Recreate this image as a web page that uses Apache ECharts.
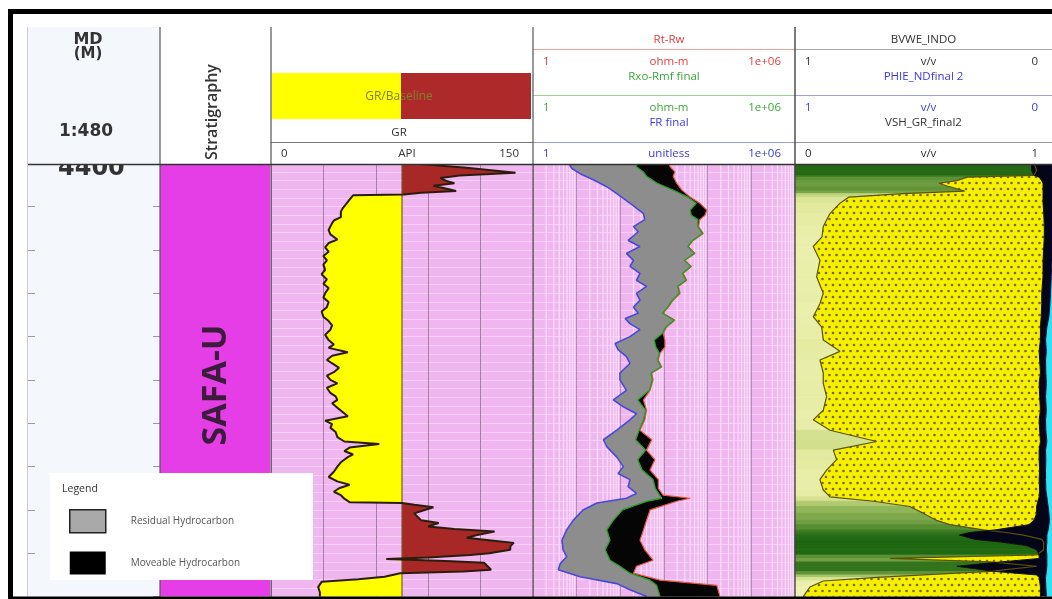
<!DOCTYPE html>
<html>
<head>
<meta charset="utf-8">
<script src="https://cdn.jsdelivr.net/npm/echarts@6/dist/echarts.min.js"></script>
<style>
  html, body { margin: 0; padding: 0; background: #fff; }
  #chart { width: 1052px; height: 599px; }
</style>
</head>
<body>
<div id="chart"></div>
<script>
// ---- depth window and formation tops (m MD) ----
const depthTop = 4400;
const depthBase = 4450;
const depthTickStep = 5;
const formations = [{ name: 'SAFA-U', top: 4400, base: 4450 }];

// ---- GR track (API), shaded against a baseline ----
const grBaseline = 75;
const grDepth = [4400.0, 4400.5, 4401.1, 4401.4, 4401.7, 4402.0, 4402.3, 4402.6, 4402.9, 4403.2,
  4403.4, 4403.6, 4403.7, 4404.2, 4404.7, 4405.2, 4405.6, 4406.2, 4406.6, 4406.9,
  4407.3, 4407.7, 4408.2, 4408.8, 4409.2, 4409.7, 4410.2, 4410.7, 4411.2, 4411.7,
  4412.3, 4412.8, 4413.4, 4413.9, 4414.4, 4415.0, 4415.5, 4416.0, 4416.6, 4417.1,
  4417.7, 4418.2, 4418.7, 4419.2, 4419.8, 4420.4, 4420.9, 4421.3, 4421.8, 4422.2,
  4422.7, 4423.2, 4423.6, 4424.1, 4424.5, 4425.0, 4425.4, 4425.9, 4426.5, 4426.9,
  4427.3, 4427.7, 4428.2, 4428.7, 4429.2, 4429.7, 4430.1, 4430.5, 4431.0, 4431.6,
  4432.1, 4432.4, 4432.8, 4433.2, 4433.6, 4433.9, 4434.5, 4435.0, 4435.6, 4436.2,
  4436.7, 4437.1, 4437.5, 4437.9, 4438.3, 4438.7, 4439.1, 4439.2, 4439.4, 4439.7,
  4440.0, 4440.4, 4440.8, 4441.2, 4441.5, 4441.9, 4442.2, 4442.5, 4442.9, 4443.2,
  4443.6, 4443.8, 4444.2, 4444.6, 4445.0, 4445.2, 4445.5, 4445.65, 4445.9, 4446.1,
  4446.5, 4446.9, 4447.1, 4447.3, 4447.7, 4448.0, 4448.3, 4448.9, 4449.5, 4450.0];
const grValue = [80, 112, 140, 108, 97, 100, 105, 93, 100, 106,
  86, 76, 47, 45, 43, 41, 40, 40, 36, 35,
  34, 33, 34, 38, 33, 31, 33, 30, 32, 30,
  31, 29, 32, 30, 33, 31, 30, 33, 32, 29,
  30, 33, 35, 34, 31, 33, 36, 33, 44, 35,
  32, 36, 39, 36, 32, 34, 38, 32, 34, 37,
  38, 35, 38, 41, 44, 31, 35, 34, 37, 38,
  42, 62, 45, 42, 47, 44, 40, 38, 36, 33,
  38, 45, 39, 36, 40, 42, 45, 75, 82, 93,
  88, 82, 84, 86, 96, 90, 105, 128, 118, 112,
  130, 139, 137, 137, 125, 114, 90, 66, 100, 122,
  124, 126, 110, 74, 65, 50, 29, 27, 28, 28];

// ---- resistivity track (ohm-m / unitless), log 1 .. 1e6 ----
const rtDepth = [4400.0, 4400.4, 4401.0, 4401.5, 4402.3, 4403.1, 4403.9, 4404.6, 4405.4, 4406.0,
  4406.5, 4407.3, 4408.1, 4408.9, 4409.6, 4410.4, 4411.2, 4411.9, 4412.7, 4413.5,
  4414.2, 4415.0, 4415.8, 4416.6, 4417.3, 4418.1, 4418.9, 4419.6, 4420.4, 4421.2,
  4421.9, 4422.7, 4423.5, 4424.2, 4425.0, 4426.2, 4427.3, 4428.5, 4429.6, 4430.8,
  4431.9, 4433.1, 4434.2, 4435.4, 4436.5, 4437.5, 4438.3, 4438.65, 4439.0, 4440.0,
  4441.2, 4442.3, 4443.5, 4444.6, 4445.8, 4446.5, 4447.3, 4448.1, 4448.7, 4450.0];
const rtValue = [1300, 1380, 1780, 1620, 1950, 2570, 3980, 6600, 9550, 8700,
  6600, 6170, 7940, 4680, 3630, 5130, 3020, 4270, 2750, 3310,
  2140, 2340, 1620, 1260, 955, 1780, 1150, 955, 1050, 1050,
  813, 741, 891, 525, 562, 479, 339, 398, 363, 282,
  525, 398, 617, 479, 741, 741, 955, 3980, 1950, 479,
  398, 339, 282, 363, 562, 234, 200, 813, 16200, 19100];
const rxoValue = [234, 234, 339, 398, 700, 1620, 3500, 5500, 4000, 4200,
  6000, 5900, 7600, 4500, 3500, 4900, 2900, 4100, 2650, 3200,
  2050, 2250, 1550, 1200, 920, 1700, 1100, 920, 600, 650,
  780, 710, 850, 500, 540, 460, 251, 380, 340, 270,
  224, 380, 251, 316, 562, 631, 794, 891, 398, 112,
  69, 49, 58, 45, 58, 98, 166, 479, 676, 813];
const frDepth = [4400.0, 4400.6, 4401.2, 4401.9, 4402.7, 4403.5, 4404.6, 4405.8, 4406.5, 4407.3,
  4407.9, 4408.9, 4409.6, 4410.4, 4411.2, 4411.9, 4412.7, 4413.5, 4414.2, 4415.0,
  4415.8, 4416.6, 4417.3, 4417.9, 4418.5, 4419.2, 4420.0, 4420.8, 4421.5, 4422.3,
  4423.1, 4424.2, 4425.0, 4426.2, 4427.3, 4428.1, 4428.9, 4429.6, 4430.8, 4431.9,
  4432.7, 4433.9, 4435.0, 4435.8, 4436.5, 4437.3, 4438.1, 4438.65, 4439.2, 4440.0,
  4441.2, 4442.3, 4443.5, 4444.6, 4445.4, 4446.2, 4446.9, 4447.7, 4448.5, 4449.2, 4450.0];
const frValue = [6.5, 7.8, 12, 24, 49, 83, 166, 339, 363, 200,
  257, 151, 282, 138, 200, 166, 282, 234, 398, 234,
  282, 200, 257, 129, 166, 282, 166, 76, 89, 138,
  166, 98, 98, 138, 69, 117, 234, 166, 83, 41,
  49, 83, 117, 89, 166, 151, 234, 138, 29, 14,
  8.3, 5.9, 4.6, 4.9, 5.9, 4.2, 3.8, 12, 83, 166, 398];

// ---- volumetrics track (v/v) ----
const bvDepth = [4400.0, 4400.8, 4401.4, 4401.6, 4402.0, 4402.3, 4402.7, 4403.2, 4403.5, 4403.9,
  4404.6, 4405.8, 4407.3, 4408.5, 4409.6, 4411.2, 4413.1, 4415.0, 4416.2, 4417.7,
  4418.9, 4420.4, 4421.7, 4422.7, 4424.2, 4425.4, 4426.9, 4428.5, 4429.6, 4430.8,
  4432.1, 4433.1, 4434.2, 4435.4, 4436.5, 4437.7, 4438.5, 4439.0, 4439.6, 4440.4,
  4441.2, 4441.7, 4442.3, 4442.6, 4442.9, 4443.4, 4443.7, 4444.1, 4444.6, 4445.2,
  4445.6, 4446.0, 4446.5, 4447.1, 4447.5, 4447.8, 4448.2, 4448.9, 4450.0];
const vshValue = [0.93, 0.94, 0.93, 0.67, 0.63, 0.56, 0.60, 0.66, 0.42, 0.21,
  0.175, 0.136, 0.11, 0.105, 0.071, 0.097, 0.084, 0.11, 0.097, 0.071,
  0.104, 0.11, 0.175, 0.097, 0.11, 0.11, 0.123, 0.11, 0.071, 0.136,
  0.318, 0.149, 0.162, 0.123, 0.097, 0.11, 0.136, 0.305, 0.447, 0.50,
  0.551, 0.603, 0.733, 0.82, 0.889, 0.96, 0.967, 0.967, 0.967, 0.941,
  0.37, 0.76, 0.941, 0.76, 0.50, 0.305, 0.11, 0.058, 0.032];
const phieValue = [0.08, 0.08, 0.07, 0.05, 0.04, 0.035, 0.035, 0.035, 0.035, 0.035,
  0.035, 0.032, 0.03, 0.03, 0.032, 0.035, 0.035, 0.04, 0.04, 0.042,
  0.045, 0.045, 0.05, 0.048, 0.045, 0.05, 0.048, 0.045, 0.05, 0.048,
  0.045, 0.05, 0.05, 0.048, 0.05, 0.048, 0.05, 0.055, 0.06, 0.06,
  0.07, 0.09, 0.22, 0.32, 0.36, 0.30, 0.20, 0.10, 0.06, 0.05,
  0.05, 0.20, 0.37, 0.22, 0.06, 0.05, 0.048, 0.045, 0.045];
const bvweValue = [0, 0, 0, 0, 0, 0, 0, 0, 0, 0,
  0, 0, 0, 0, 0, 0, 0.003, 0.006, 0.008, 0.012,
  0.02, 0.025, 0.022, 0.025, 0.024, 0.022, 0.025, 0.022, 0.025, 0.024,
  0.02, 0.025, 0.024, 0.025, 0.025, 0.024, 0.02, 0.018, 0.015, 0.012,
  0.01, 0.012, 0.015, 0.018, 0.02, 0.02, 0.02, 0.021, 0.022, 0.02,
  0.02, 0.02, 0.02, 0.022, 0.024, 0.025, 0.025, 0.024, 0.022];

// ---- layout ----
const TOP = 163.3, HEIGHT = 433.3;
const T = {
  md:    { left: 28,  width: 132 },
  strat: { left: 160, width: 110 },
  gr:    { left: 271, width: 262 },
  res:   { left: 533, width: 262 },
  bv:    { left: 795, width: 257 }
};

const pts = (vals, deps) => vals.map((v, i) => [v, deps[i]]);
const grPts = pts(grValue, grDepth);
const rtPts = pts(rtValue, rtDepth);
const rxoPts = pts(rxoValue, rtDepth);
const frPts = pts(frValue, frDepth);
const vshPts = pts(vshValue, bvDepth);
const phiePts = pts(phieValue, bvDepth);
const bvwePts = pts(bvweValue, bvDepth);

// sandstone lithology fill: yellow with offset dot rows
const tile = document.createElement('canvas');
tile.width = 7; tile.height = 12;
(function () {
  const g = tile.getContext('2d');
  g.fillStyle = '#f6f000'; g.fillRect(0, 0, 7, 12);
  g.fillStyle = '#7a6a14';
  [[3.5, 3], [0, 9], [7, 9]].forEach(([x, y]) => { g.beginPath(); g.arc(x, y, 1.35, 0, Math.PI * 2); g.fill(); });
})();
const sandPattern = { image: tile, repeat: 'repeat' };

// shale volume colour ramp (pale -> dark green)
const shaleStops = [[0, [242, 243, 188]], [0.15, [228, 235, 160]], [0.35, [186, 208, 118]],
  [0.55, [118, 162, 70]], [0.75, [66, 128, 38]], [1, [26, 98, 14]]];
function shaleColor(v) {
  for (let i = 1; i < shaleStops.length; i++) {
    if (v <= shaleStops[i][0]) {
      const [a, ca] = shaleStops[i - 1], [b, cb] = shaleStops[i];
      const t = (v - a) / (b - a);
      const c = ca.map((x, k) => Math.round(x + (cb[k] - x) * t));
      return 'rgb(' + c.join(',') + ')';
    }
  }
  return 'rgb(26,98,14)';
}

// polygon between two depth curves
function band(name, grid, xAxisIndex, curveA, curveB, style, z, extra) {
  return Object.assign({
    name, type: 'custom', xAxisIndex, yAxisIndex: grid, z, silent: true,
    data: curveA, encode: { x: 0, y: 1 },
    renderItem(params, api) {
      if (params.dataIndex !== 0) return null;
      const p = curveA.map(c => api.coord(c)).concat(curveB.slice().reverse().map(c => api.coord(c)));
      return { type: 'polygon', shape: { points: p }, style };
    }
  }, extra || {});
}
function curve(name, grid, xAxisIndex, data, color, width, z) {
  return { name, type: 'line', xAxisIndex, yAxisIndex: grid, data, symbol: 'none', z: z || 8,
    silent: true, lineStyle: { color, width }, clip: true };
}

const baseLine = [[grBaseline, depthTop], [grBaseline, depthBase]];
const grLow = grPts.map(([v, d]) => [Math.min(v, grBaseline), d]);
const grHigh = grPts.map(([v, d]) => [Math.max(v, grBaseline), d]);

// log grid minor lines for the resistivity track
const resMinor = [];
for (let k = 0; k < 6; k++) for (let m = 2; m <= 9; m++) resMinor.push([m * Math.pow(10, k), depthTop]);

const series = [
  // stratigraphy column
  {
    type: 'custom', xAxisIndex: 1, yAxisIndex: 1, z: 3, silent: true,
    data: formations.map(f => [0, f.top, 1, f.base]),
    renderItem(params, api) {
      const p0 = api.coord([0, api.value(1)]), p1 = api.coord([1, api.value(3)]);
      const f = formations[params.dataIndex];
      return { type: 'group', children: [
        { type: 'rect', shape: { x: p0[0], y: p0[1], width: p1[0] - p0[0], height: p1[1] - p0[1] },
          style: { fill: '#e63ee6' } },
        { type: 'text', x: (p0[0] + p1[0]) / 2 + 1, y: (p0[1] + p1[1]) / 2 + 5, rotation: Math.PI / 2,
          style: { text: f.name, fill: '#3c1c3c', font: 'bold 34px "Liberation Sans Narrow", "Open Sans", sans-serif',
            align: 'center', verticalAlign: 'middle' } }
      ] };
    }
  },
  // GR shading
  band('GR sand', 2, 2, grLow, baseLine, { fill: '#ffff00' }, 3),
  band('GR shale', 2, 2, grHigh, baseLine, { fill: '#a82828' }, 3),
  curve('GR', 2, 2, grPts, '#2b1d0c', 2),
  { type: 'line', xAxisIndex: 2, yAxisIndex: 2, data: baseLine, symbol: 'none', silent: true, z: 7,
    lineStyle: { color: '#7a5a20', width: 1.2 } },
  // resistivity log grid
  {
    type: 'custom', xAxisIndex: 3, yAxisIndex: 3, z: 1, silent: true,
    data: resMinor, encode: { x: 0, y: 1 },
    renderItem(params, api) {
      const a = api.coord([api.value(0), depthTop]), b = api.coord([api.value(0), depthBase]);
      return { type: 'line', shape: { x1: a[0], y1: a[1], x2: b[0], y2: b[1] },
        style: { stroke: '#f8def8', lineWidth: 1.2 } };
    }
  },
  band('Residual Hydrocarbon', 3, 3, frPts, rxoPts, { fill: '#8d8d8d' }, 3,
    { itemStyle: { color: '#a9a9a9', borderColor: '#222', borderWidth: 1.5 } }),
  band('Moveable Hydrocarbon', 3, 3, rxoPts, rtPts, { fill: '#050505' }, 4,
    { itemStyle: { color: '#000' } }),
  curve('Rt-Rw', 3, 3, rtPts, '#e85a3a', 1.2),
  curve('Rxo-Rmf final', 3, 3, rxoPts, '#25a025', 1.3),
  curve('FR final', 3, 3, frPts, '#4848e0', 1.6),
  // volumetrics: shale coloured by VSH
  {
    type: 'custom', xAxisIndex: 4, yAxisIndex: 4, z: 3, silent: true,
    data: vshPts, encode: { x: 0, y: 1 },
    renderItem(params, api) {
      const i = params.dataIndex;
      if (i >= vshPts.length - 1) return null;
      const a = vshPts[i], b = vshPts[i + 1];
      const p = [api.coord([0, a[1]]), api.coord(a), api.coord(b), api.coord([0, b[1]])];
      const c = shaleColor((a[0] + b[0]) / 2);
      return { type: 'polygon', shape: { points: p }, style: { fill: c, stroke: c, lineWidth: 0.8 } };
    }
  },
  // sand matrix between VSH and effective porosity (porosity scale runs 1 -> 0 across the track)
  {
    type: 'custom', xAxisIndex: 4, yAxisIndex: 4, z: 4, silent: true,
    data: vshPts, encode: { x: 0, y: 1 },
    renderItem(params, api) {
      if (params.dataIndex !== 0) return null;
      const left = vshPts.map(c => api.coord(c));
      const right = bvDepth.map((d, i) => api.coord([Math.max(vshValue[i], 1 - phieValue[i]), d])).reverse();
      return { type: 'polygon', shape: { points: left.concat(right) }, style: { fill: sandPattern } };
    }
  },
  band('Hydrocarbon', 4, 5, phiePts, bvwePts, { fill: '#05051a' }, 5),
  band('Water', 4, 5, bvwePts, [[0, depthTop], [0, depthBase]], { fill: '#2fe2f2' }, 5),
  curve('VSH_GR_final2', 4, 4, vshPts, '#5a5206', 1.2),
  curve('PHIE_NDfinal 2', 4, 5, phiePts, '#111', 1),
  curve('BVWE_INDO', 4, 5, bvwePts, '#0a0a3a', 1)
];

// ---- header ----
const FONT = '"Open Sans", "DejaVu Sans", sans-serif';
function txt(text, x, y, color, size, al, extra) {
  al = al || 'center';
  return { type: 'text', x, y, z: 60, silent: true,
    style: Object.assign({ text, fill: color, font: (size || 11.5) + 'px ' + FONT,
      align: al, textAlign: al, verticalAlign: 'middle', textVerticalAlign: 'middle' }, extra || {}) };
}
function ln(x1, y1, x2, y2, color, w, z) {
  return { type: 'line', z: z || 61, silent: true, shape: { x1, y1, x2, y2 }, style: { stroke: color, lineWidth: w || 1 } };
}
function rect(x, y, w, h, fill, z) {
  return { type: 'rect', z: z || 50, silent: true, shape: { x, y, width: w, height: h }, style: { fill } };
}
function scaleRow(y, l, u, r, x0, x1, color) {
  return [txt(l, x0 + 10, y, color, 11.5, 'left'), txt(u, (x0 + x1) / 2 + 5, y, color),
    txt(r, x1 - 14, y, color, 11.5, 'right')];
}
const RED = '#e23c3c', GREEN = '#3aa83a', BLUE = '#3a3ad8', INK = '#333';
const resMid = T.res.left + T.res.width / 2, bvMid = T.bv.left + T.bv.width / 2, grMid = T.gr.left + T.gr.width / 2;
const headerBottom = 164.5;

const legendText = { z: 66 };
const graphics = [
  // frame
  { type: 'rect', z: 70, silent: true, shape: { x: 10.5, y: 11.5, width: 1100, height: 587.5 },
    style: { fill: 'none', stroke: '#000', lineWidth: 5 } },
  rect(28, 27, 132, headerBottom - 27, '#f4f7fc'),
  rect(160, 27, 892, headerBottom - 27, '#ffffff'),
  // depth header
  txt('MD', 88, 40, INK, 16, 'center', { font: 'bold 16px "DejaVu Sans", sans-serif' }),
  txt('(M)', 88, 54, INK, 16, 'center', { font: 'bold 15px "DejaVu Sans", sans-serif' }),
  txt('1:480', 86, 132, INK, 17, 'center', { font: 'bold 17px "DejaVu Sans", sans-serif' }),
  // stratigraphy header
  { type: 'text', x: 212, y: 112, z: 60, silent: true, rotation: Math.PI / 2,
    style: { text: 'Stratigraphy', fill: INK, font: '600 16px ' + FONT, align: 'center', verticalAlign: 'middle' } },
  // GR header
  rect(272, 73, grMid - 1 - 272, 46, '#ffff00', 55),
  rect(grMid - 1, 73, 531 - grMid + 1, 46, '#ae2a2a', 55),
  txt('GR/Baseline', grMid - 3, 97, '#80802e', 12),
  txt('GR', grMid - 3, 133, INK),
  ln(T.gr.left, 142.5, T.gr.left + T.gr.width, 142.5, '#777', 1),
  ...scaleRow(154, '0', 'API', '150', T.gr.left, T.gr.left + T.gr.width, INK),
  // resistivity header
  txt('Rt-Rw', resMid + 5, 40, RED),
  ln(T.res.left, 49.5, T.res.left + T.res.width, 49.5, '#f2a0a0', 1),
  ...scaleRow(62, '1', 'ohm-m', '1e+06', T.res.left, T.res.left + T.res.width, RED),
  txt('Rxo-Rmf final', resMid, 77, GREEN),
  ln(T.res.left, 95.5, T.res.left + T.res.width, 95.5, '#98d498', 1),
  ...scaleRow(108, '1', 'ohm-m', '1e+06', T.res.left, T.res.left + T.res.width, GREEN),
  txt('FR final', resMid + 5, 123, BLUE),
  ln(T.res.left, 142.5, T.res.left + T.res.width, 142.5, '#9a9ae8', 1),
  ...scaleRow(154, '1', 'unitless', '1e+06', T.res.left, T.res.left + T.res.width, BLUE),
  // volumetrics header
  txt('BVWE_INDO', bvMid, 40, INK),
  ln(T.bv.left, 49.5, 1052, 49.5, '#aaa', 1),
  ...scaleRow(62, '1', 'v/v', '0', T.bv.left, T.bv.left + T.bv.width, INK),
  txt('PHIE_NDfinal 2', bvMid, 77, BLUE),
  ln(T.bv.left, 95.5, 1052, 95.5, '#a0a0e0', 1),
  ...scaleRow(108, '1', 'v/v', '0', T.bv.left, T.bv.left + T.bv.width, BLUE),
  txt('VSH_GR_final2', bvMid, 123, INK),
  ln(T.bv.left, 142.5, 1052, 142.5, '#999', 1),
  ...scaleRow(154, '0', 'v/v', '1', T.bv.left, T.bv.left + T.bv.width, INK),
  // track separators
  ln(27.5, 27, 27.5, 597, '#c8ccd4', 1),
  ln(160, 27, 160, 597, '#555', 1.2),
  ln(271, 27, 271, 597, '#555', 1.2),
  ln(533, 27, 533, 597, '#555', 1.2),
  ln(795, 27, 795, 597, '#444', 1.4),
  ln(28, headerBottom, 1052, headerBottom, '#333', 1.5),
  // legend panel
  rect(50, 473, 263, 107, '#ffffff', 64),
  Object.assign(txt('Legend', 62, 489, '#333', 10.5, 'left'), legendText)
];

const option = {
  animation: false,
  backgroundColor: '#ffffff',
  grid: [
    { left: T.md.left, width: T.md.width, top: TOP, height: HEIGHT, show: true, backgroundColor: '#f4f7fc', borderWidth: 0 },
    { left: T.strat.left, width: T.strat.width, top: TOP, height: HEIGHT, show: false },
    { left: T.gr.left, width: T.gr.width, top: TOP, height: HEIGHT, show: true, backgroundColor: '#f0b6f0', borderWidth: 0 },
    { left: T.res.left, width: T.res.width, top: TOP, height: HEIGHT, show: true, backgroundColor: '#f0b6f0', borderWidth: 0 },
    { left: T.bv.left, width: T.bv.width, top: TOP, height: HEIGHT, show: true, backgroundColor: '#f2f3bc', borderWidth: 0 }
  ],
  xAxis: [
    { gridIndex: 0, type: 'value', min: 0, max: 1, show: false },
    { gridIndex: 1, type: 'value', min: 0, max: 1, show: false },
    { gridIndex: 2, type: 'value', min: 0, max: 150, interval: 30, position: 'top',
      axisLine: { show: false }, axisTick: { show: false }, axisLabel: { show: false },
      splitLine: { show: true, lineStyle: { color: '#a77ea7', width: 1 } } },
    { gridIndex: 3, type: 'log', logBase: 10, min: 1, max: 1e6, splitNumber: 6, position: 'top',
      axisLine: { show: false }, axisTick: { show: false }, axisLabel: { show: false },
      splitLine: { show: true, lineStyle: { color: '#b58cb5', width: 1 } } },
    { gridIndex: 4, type: 'value', min: 0, max: 1, show: false },
    { gridIndex: 4, type: 'value', min: 0, max: 1, inverse: true, show: false }
  ],
  yAxis: [
    { gridIndex: 0, type: 'value', min: depthTop, max: depthBase, interval: depthTickStep, inverse: true, position: 'left',
      axisLine: { show: false }, splitLine: { show: false },
      axisTick: { show: true, inside: true, length: 7, lineStyle: { color: '#9a9a9a', width: 1 } },
      axisLabel: { show: true, inside: true, margin: 30, showMaxLabel: false, verticalAlign: 'middle',
        formatter: v => (v % 50 === 0 ? '{d|' + v + '}' : ''),
        rich: { d: { fontFamily: '"DejaVu Sans", sans-serif', fontWeight: 'bold', fontSize: 24,
          color: '#333', padding: [11, 0, 0, 0] } } } },
    { gridIndex: 1, type: 'value', min: depthTop, max: depthBase, inverse: true, show: false },
    { gridIndex: 2, type: 'value', min: depthTop, max: depthBase, interval: depthTickStep, inverse: true,
      axisLine: { show: false }, axisTick: { show: false }, axisLabel: { show: false },
      splitLine: { show: true, lineStyle: { color: '#f6cff6', width: 1 } },
      minorTick: { show: false, splitNumber: 5 },
      minorSplitLine: { show: true, lineStyle: { color: '#f6cff6', width: 1 } } },
    { gridIndex: 3, type: 'value', min: depthTop, max: depthBase, interval: depthTickStep, inverse: true,
      axisLine: { show: false }, axisTick: { show: false }, axisLabel: { show: false },
      splitLine: { show: true, lineStyle: { color: '#f6cff6', width: 1 } },
      minorTick: { show: false, splitNumber: 5 },
      minorSplitLine: { show: true, lineStyle: { color: '#f6cff6', width: 1 } } },
    { gridIndex: 4, type: 'value', min: depthTop, max: depthBase, inverse: true, show: false },
    { gridIndex: 0, type: 'value', min: depthTop, max: depthBase, interval: depthTickStep, inverse: true, position: 'right',
      axisLine: { show: false }, splitLine: { show: false }, axisLabel: { show: false },
      axisTick: { show: true, inside: true, length: 7, lineStyle: { color: '#9a9a9a', width: 1 } } }
  ],
  legend: {
    z: 68, left: 64, top: 504, orient: 'vertical', selectedMode: false,
    itemWidth: 36, itemHeight: 23, itemGap: 18, icon: 'rect',
    data: [
      { name: 'Residual Hydrocarbon', itemStyle: { color: '#a9a9a9', borderColor: '#222', borderWidth: 1.5 } },
      { name: 'Moveable Hydrocarbon', itemStyle: { color: '#000' } }
    ],
    formatter: n => '{a|' + n + '}',
    textStyle: { rich: { a: { fontFamily: FONT, fontSize: 10, color: '#555', padding: [0, 0, 0, 20] } } }
  },
  graphic: { elements: graphics },
  series
};

const chart = echarts.init(document.getElementById('chart'), null, { renderer: 'canvas' });
chart.setOption(option);
</script>
</body>
</html>
